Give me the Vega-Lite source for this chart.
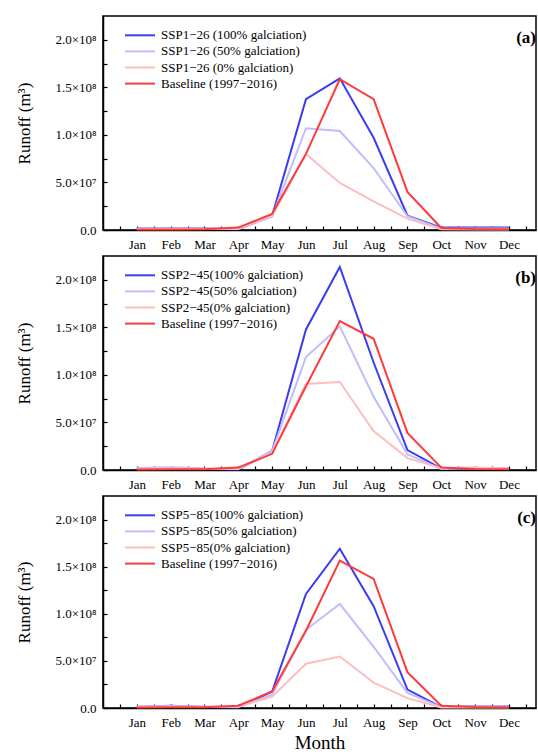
{
  "$schema": "https://vega.github.io/schema/vega-lite/v6.json",
  "padding": {"left": 15, "top": 15, "right": 0, "bottom": 0},
  "spacing": 3,
  "data": {"values": [
    {"panel": "a", "month": 1, "s100": 1.5e6, "s50": 1.5e6, "s0": 1.0e6, "base": 0.6e6},
    {"panel": "a", "month": 2, "s100": 1.5e6, "s50": 1.5e6, "s0": 1.0e6, "base": 0.6e6},
    {"panel": "a", "month": 3, "s100": 1.5e6, "s50": 1.2e6, "s0": 1.0e6, "base": 0.8e6},
    {"panel": "a", "month": 4, "s100": 0.8e6, "s50": 1.0e6, "s0": 1.5e6, "base": 2.5e6},
    {"panel": "a", "month": 5, "s100": 1.5e7, "s50": 1.4e7, "s0": 1.5e7, "base": 1.7e7},
    {"panel": "a", "month": 6, "s100": 1.375e8, "s50": 1.07e8, "s0": 0.80e8, "base": 0.80e8},
    {"panel": "a", "month": 7, "s100": 1.595e8, "s50": 1.04e8, "s0": 0.495e8, "base": 1.585e8},
    {"panel": "a", "month": 8, "s100": 0.97e8, "s50": 0.65e8, "s0": 0.30e8, "base": 1.375e8},
    {"panel": "a", "month": 9, "s100": 1.5e7, "s50": 1.45e7, "s0": 1.2e7, "base": 4.0e7},
    {"panel": "a", "month": 10, "s100": 2.5e6, "s50": 1.5e6, "s0": 0.8e6, "base": 2.2e6},
    {"panel": "a", "month": 11, "s100": 2.5e6, "s50": 1.5e6, "s0": 0.5e6, "base": 1.0e6},
    {"panel": "a", "month": 12, "s100": 2.5e6, "s50": 1.5e6, "s0": 0.5e6, "base": 0.8e6},
    {"panel": "b", "month": 1, "s100": 1.0e6, "s50": 2.0e6, "s0": 1.0e6, "base": 0.6e6},
    {"panel": "b", "month": 2, "s100": 2.0e6, "s50": 3.0e6, "s0": 1.5e6, "base": 0.8e6},
    {"panel": "b", "month": 3, "s100": 1.0e6, "s50": 1.5e6, "s0": 1.0e6, "base": 0.8e6},
    {"panel": "b", "month": 4, "s100": 0.5e6, "s50": 1.0e6, "s0": 1.5e6, "base": 2.5e6},
    {"panel": "b", "month": 5, "s100": 2.0e7, "s50": 2.0e7, "s0": 1.8e7, "base": 1.7e7},
    {"panel": "b", "month": 6, "s100": 1.478e8, "s50": 1.187e8, "s0": 0.905e8, "base": 0.88e8},
    {"panel": "b", "month": 7, "s100": 2.134e8, "s50": 1.51e8, "s0": 0.925e8, "base": 1.566e8},
    {"panel": "b", "month": 8, "s100": 1.13e8, "s50": 0.77e8, "s0": 0.41e8, "base": 1.38e8},
    {"panel": "b", "month": 9, "s100": 2.1e7, "s50": 1.65e7, "s0": 1.25e7, "base": 3.9e7},
    {"panel": "b", "month": 10, "s100": 1.5e6, "s50": 1.0e6, "s0": 2.0e6, "base": 2.5e6},
    {"panel": "b", "month": 11, "s100": 1.5e6, "s50": 2.0e6, "s0": 2.5e6, "base": 1.0e6},
    {"panel": "b", "month": 12, "s100": 1.5e6, "s50": 2.0e6, "s0": 1.0e6, "base": 0.8e6},
    {"panel": "c", "month": 1, "s100": 1.0e6, "s50": 1.5e6, "s0": 1.0e6, "base": 0.6e6},
    {"panel": "c", "month": 2, "s100": 2.5e6, "s50": 2.0e6, "s0": 1.0e6, "base": 0.8e6},
    {"panel": "c", "month": 3, "s100": 1.0e6, "s50": 1.5e6, "s0": 1.0e6, "base": 0.8e6},
    {"panel": "c", "month": 4, "s100": 0.5e6, "s50": 1.0e6, "s0": 1.5e6, "base": 2.5e6},
    {"panel": "c", "month": 5, "s100": 1.75e7, "s50": 1.4e7, "s0": 1.2e7, "base": 1.75e7},
    {"panel": "c", "month": 6, "s100": 1.21e8, "s50": 0.83e8, "s0": 0.47e8, "base": 0.82e8},
    {"panel": "c", "month": 7, "s100": 1.69e8, "s50": 1.105e8, "s0": 0.547e8, "base": 1.565e8},
    {"panel": "c", "month": 8, "s100": 1.08e8, "s50": 0.65e8, "s0": 0.27e8, "base": 1.37e8},
    {"panel": "c", "month": 9, "s100": 1.95e7, "s50": 1.6e7, "s0": 1.05e7, "base": 3.8e7},
    {"panel": "c", "month": 10, "s100": 1.0e6, "s50": 1.0e6, "s0": 0.5e6, "base": 2.5e6},
    {"panel": "c", "month": 11, "s100": 1.5e6, "s50": 1.5e6, "s0": 0.5e6, "base": 1.0e6},
    {"panel": "c", "month": 12, "s100": 1.5e6, "s50": 1.5e6, "s0": 0.5e6, "base": 0.8e6}
  ]},
  "vconcat": [
    {
      "width": 433, "height": 214,
      "title": {"text": "(a)"},
      "transform": [{"filter": "datum.panel == 'a'"}, {"fold": ["s100", "s50", "s0", "base"], "as": ["series", "runoff"]}],
      "mark": {"type": "line", "strokeWidth": 2},
      "encoding": {
        "x": {"field": "month", "type": "quantitative", "scale": {"domain": [0, 12.8], "nice": false, "zero": false},
          "axis": {"title": null, "values": [0.5,1,1.5,2,2.5,3,3.5,4,4.5,5,5.5,6,6.5,7,7.5,8,8.5,9,9.5,10,10.5,11,11.5,12,12.5],
            "labelExpr": "datum.value == 1 ? 'Jan' : datum.value == 2 ? 'Feb' : datum.value == 3 ? 'Mar' : datum.value == 4 ? 'Apr' : datum.value == 5 ? 'May' : datum.value == 6 ? 'Jun' : datum.value == 7 ? 'Jul' : datum.value == 8 ? 'Aug' : datum.value == 9 ? 'Sep' : datum.value == 10 ? 'Oct' : datum.value == 11 ? 'Nov' : datum.value == 12 ? 'Dec' : ''",
            "tickSize": -4, "labelPadding": 12, "labelOverlap": false, "labelFlush": false}},
        "y": {"field": "runoff", "type": "quantitative", "scale": {"domain": [0, 2.25e8], "nice": false},
          "axis": {"title": "Runoff (m³)", "values": [0, 2.5e7, 5e7, 7.5e7, 1e8, 1.25e8, 1.5e8, 1.75e8, 2e8],
            "labelExpr": "datum.value == 0 ? '0.0' : datum.value == 5e7 ? '5.0×10⁷' : datum.value == 1e8 ? '1.0×10⁸' : datum.value == 1.5e8 ? '1.5×10⁸' : datum.value == 2e8 ? '2.0×10⁸' : ''",
            "tickSize": -4, "labelPadding": 11, "labelOverlap": false, "labelFlush": false, "titlePadding": 21}},
        "color": {"field": "series", "type": "nominal",
          "scale": {"domain": ["s100", "s50", "s0", "base"], "range": ["#3b3bf2", "#bdbdff", "#ffbdbd", "#ff3a3a"]},
          "legend": {"labelExpr": "datum.label == 's100' ? 'SSP1−26 (100% galciation)' : datum.label == 's50' ? 'SSP1−26 (50% galciation)' : datum.label == 's0' ? 'SSP1−26 (0% galciation)' : 'Baseline (1997−2016)'"}}
      }
    },
    {
      "width": 433, "height": 214,
      "title": {"text": "(b)"},
      "transform": [{"filter": "datum.panel == 'b'"}, {"fold": ["s100", "s50", "s0", "base"], "as": ["series", "runoff"]}],
      "mark": {"type": "line", "strokeWidth": 2},
      "encoding": {
        "x": {"field": "month", "type": "quantitative", "scale": {"domain": [0, 12.8], "nice": false, "zero": false},
          "axis": {"title": null, "values": [0.5,1,1.5,2,2.5,3,3.5,4,4.5,5,5.5,6,6.5,7,7.5,8,8.5,9,9.5,10,10.5,11,11.5,12,12.5],
            "labelExpr": "datum.value == 1 ? 'Jan' : datum.value == 2 ? 'Feb' : datum.value == 3 ? 'Mar' : datum.value == 4 ? 'Apr' : datum.value == 5 ? 'May' : datum.value == 6 ? 'Jun' : datum.value == 7 ? 'Jul' : datum.value == 8 ? 'Aug' : datum.value == 9 ? 'Sep' : datum.value == 10 ? 'Oct' : datum.value == 11 ? 'Nov' : datum.value == 12 ? 'Dec' : ''",
            "tickSize": -4, "labelPadding": 12, "labelOverlap": false, "labelFlush": false}},
        "y": {"field": "runoff", "type": "quantitative", "scale": {"domain": [0, 2.25e8], "nice": false},
          "axis": {"title": "Runoff (m³)", "values": [0, 2.5e7, 5e7, 7.5e7, 1e8, 1.25e8, 1.5e8, 1.75e8, 2e8],
            "labelExpr": "datum.value == 0 ? '0.0' : datum.value == 5e7 ? '5.0×10⁷' : datum.value == 1e8 ? '1.0×10⁸' : datum.value == 1.5e8 ? '1.5×10⁸' : datum.value == 2e8 ? '2.0×10⁸' : ''",
            "tickSize": -4, "labelPadding": 11, "labelOverlap": false, "labelFlush": false, "titlePadding": 21}},
        "color": {"field": "series", "type": "nominal",
          "scale": {"domain": ["s100", "s50", "s0", "base"], "range": ["#3b3bf2", "#bdbdff", "#ffbdbd", "#ff3a3a"]},
          "legend": {"labelExpr": "datum.label == 's100' ? 'SSP2−45(100% galciation)' : datum.label == 's50' ? 'SSP2−45(50% galciation)' : datum.label == 's0' ? 'SSP2−45(0% galciation)' : 'Baseline (1997−2016)'"}}
      }
    },
    {
      "width": 433, "height": 212,
      "title": {"text": "(c)"},
      "transform": [{"filter": "datum.panel == 'c'"}, {"fold": ["s100", "s50", "s0", "base"], "as": ["series", "runoff"]}],
      "mark": {"type": "line", "strokeWidth": 2},
      "encoding": {
        "x": {"field": "month", "type": "quantitative", "scale": {"domain": [0, 12.8], "nice": false, "zero": false},
          "axis": {"title": "Month", "titleFontSize": 19, "titlePadding": 4, "values": [0.5,1,1.5,2,2.5,3,3.5,4,4.5,5,5.5,6,6.5,7,7.5,8,8.5,9,9.5,10,10.5,11,11.5,12,12.5],
            "labelExpr": "datum.value == 1 ? 'Jan' : datum.value == 2 ? 'Feb' : datum.value == 3 ? 'Mar' : datum.value == 4 ? 'Apr' : datum.value == 5 ? 'May' : datum.value == 6 ? 'Jun' : datum.value == 7 ? 'Jul' : datum.value == 8 ? 'Aug' : datum.value == 9 ? 'Sep' : datum.value == 10 ? 'Oct' : datum.value == 11 ? 'Nov' : datum.value == 12 ? 'Dec' : ''",
            "tickSize": -4, "labelPadding": 12, "labelOverlap": false, "labelFlush": false}},
        "y": {"field": "runoff", "type": "quantitative", "scale": {"domain": [0, 2.25e8], "nice": false},
          "axis": {"title": "Runoff (m³)", "values": [0, 2.5e7, 5e7, 7.5e7, 1e8, 1.25e8, 1.5e8, 1.75e8, 2e8],
            "labelExpr": "datum.value == 0 ? '0.0' : datum.value == 5e7 ? '5.0×10⁷' : datum.value == 1e8 ? '1.0×10⁸' : datum.value == 1.5e8 ? '1.5×10⁸' : datum.value == 2e8 ? '2.0×10⁸' : ''",
            "tickSize": -4, "labelPadding": 11, "labelOverlap": false, "labelFlush": false, "titlePadding": 21}},
        "color": {"field": "series", "type": "nominal",
          "scale": {"domain": ["s100", "s50", "s0", "base"], "range": ["#3b3bf2", "#bdbdff", "#ffbdbd", "#ff3a3a"]},
          "legend": {"labelExpr": "datum.label == 's100' ? 'SSP5−85(100% galciation)' : datum.label == 's50' ? 'SSP5−85(50% galciation)' : datum.label == 's0' ? 'SSP5−85(0% galciation)' : 'Baseline (1997−2016)'"}}
      }
    }
  ],
  "resolve": {"scale": {"color": "independent"}, "legend": {"color": "independent"}},
  "config": {
    "font": "serif",
    "title": {"anchor": "end", "orient": "top", "offset": 0, "dy": 35, "baseline": "middle", "font": "serif", "fontSize": 17, "fontWeight": "bold", "color": "black"},
    "view": {"stroke": "black", "strokeWidth": 1.5},
    "axis": {"domainColor": "black", "domainWidth": 1.5, "tickColor": "black", "tickWidth": 1.2, "labelColor": "black", "titleColor": "black",
      "labelFont": "serif", "titleFont": "serif", "labelFontSize": 13, "titleFontSize": 17, "titleFontWeight": "normal", "grid": false},
    "legend": {"orient": "none", "legendX": 28.5, "legendY": 10.8, "title": null, "padding": 0,
      "labelFont": "serif", "labelFontSize": 13, "labelColor": "black", "labelLimit": 300,
      "symbolType": "M-2,0H2", "symbolSize": 225, "symbolStrokeWidth": 2, "labelOffset": 12.5, "rowPadding": 0.1}
  }
}
